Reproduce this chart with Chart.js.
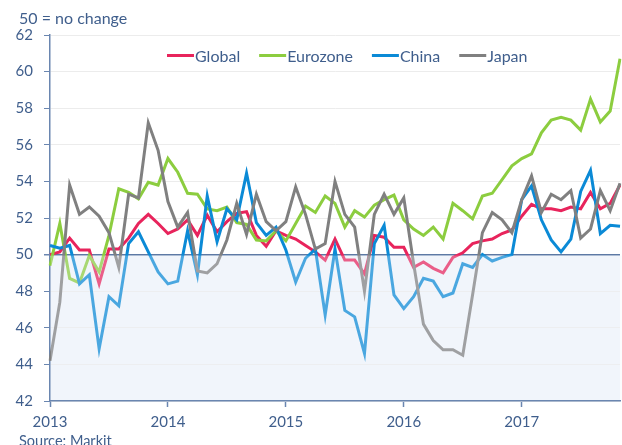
<!DOCTYPE html>
<html><head><meta charset="utf-8">
<script src="https://cdn.jsdelivr.net/npm/chart.js@4.4.1/dist/chart.umd.min.js"></script>
<style>html,body{margin:0;padding:0;background:#fff;overflow:hidden}#wrap{width:622px;height:445px;position:relative}</style>
</head><body><div id="wrap"><canvas id="c" width="622" height="445"></canvas></div>
<script>
const months = [
 '2013-01','2013-02','2013-03','2013-04','2013-05','2013-06','2013-07','2013-08','2013-09','2013-10','2013-11','2013-12',
 '2014-01','2014-02','2014-03','2014-04','2014-05','2014-06','2014-07','2014-08','2014-09','2014-10','2014-11','2014-12',
 '2015-01','2015-02','2015-03','2015-04','2015-05','2015-06','2015-07','2015-08','2015-09','2015-10','2015-11','2015-12',
 '2016-01','2016-02','2016-03','2016-04','2016-05','2016-06','2016-07','2016-08','2016-09','2016-10','2016-11','2016-12',
 '2017-01','2017-02','2017-03','2017-04','2017-05','2017-06','2017-07','2017-08','2017-09','2017-10','2017-11'];
const seriesNames = ['Global','Eurozone','China','Japan'];
const globalPMI = [50.0,50.15,50.9,50.25,50.25,48.4,50.3,50.3,50.9,51.7,52.2,51.7,
 51.15,51.4,51.9,51.05,52.15,51.25,51.8,52.25,52.35,51.05,50.45,51.3,
 51.05,50.85,50.5,50.15,49.7,50.85,49.7,49.7,48.95,51.05,50.95,50.4,
 50.4,49.3,49.6,49.25,49.0,49.85,50.1,50.6,50.75,50.85,51.15,51.35,
 52.1,52.75,52.5,52.5,52.4,52.6,52.5,53.4,52.5,52.8,53.8];
const eurozonePMI = [49.4,51.7,48.7,48.45,49.95,49.05,51.05,53.6,53.4,53.05,53.95,53.8,
 55.25,54.5,53.35,53.3,52.5,52.4,52.6,51.75,51.65,50.8,50.75,51.3,
 50.75,51.7,52.65,52.3,53.2,52.8,51.5,52.4,52.05,52.7,53.0,53.25,
 51.9,51.4,51.05,51.5,50.85,52.8,52.4,51.95,53.2,53.35,54.1,54.85,
 55.25,55.5,56.65,57.35,57.5,57.35,56.8,58.5,57.25,57.85,60.7];
const chinaPMI = [50.5,50.35,50.5,48.4,48.9,44.85,47.7,47.2,50.6,51.25,50.15,49.05,
 48.4,48.55,51.3,48.9,53.2,50.7,52.5,51.9,54.45,51.75,51.05,51.5,
 50.25,48.5,49.8,50.3,46.7,50.3,46.95,46.6,44.6,50.6,51.6,47.8,
 47.05,47.7,48.7,48.55,47.7,47.9,49.5,49.3,50.0,49.65,49.85,50.0,
 53.0,53.75,51.9,50.8,50.15,50.85,53.45,54.6,51.15,51.6,51.55];
const japanPMI = [44.2,47.4,53.8,52.2,52.6,52.1,51.2,49.3,53.3,53.1,57.2,55.7,
 52.9,51.5,52.3,49.1,49.0,49.5,50.8,52.8,51.1,53.3,51.8,51.3,
 51.8,53.7,52.2,50.3,50.6,54.0,52.2,51.5,48.0,52.2,53.3,52.2,
 53.1,49.5,46.2,45.3,44.8,44.8,44.5,47.8,51.2,52.3,51.9,51.2,
 53.0,54.3,52.3,53.3,53.0,53.5,50.9,51.4,53.5,52.4,53.9];
const yMin = 42, yMax = 62, yStep = 2, noChange = 50;
const titleText = '50 = no change';
const sourceText = 'Source: Markit';

const FONT = 'Lato, "Open Sans", sans-serif';
const TXT = '#3f5e8c';
const AXIS = '#6a86b0';
const colors = ['#e8245c','#8ccd3f','#0b8ad6','#808080'];
const values = [globalPMI, eurozonePMI, chinaPMI, japanPMI];

const decor = {
  id: 'decor',
  beforeDraw(chart) {
    const {ctx, chartArea: a, scales: {y}} = chart;
    const y50 = y.getPixelForValue(noChange);
    ctx.save();
    ctx.fillStyle = '#f1f5fb';
    ctx.fillRect(a.left, y50, a.right - a.left, a.bottom - y50);
    ctx.restore();
  },
  afterDatasetsDraw(chart) {
    const {ctx, chartArea: a, scales: {y}} = chart;
    const y50 = y.getPixelForValue(noChange);
    ctx.save();
    ctx.fillStyle = 'rgba(241,245,251,0.28)';
    ctx.fillRect(a.left + 1, y50 + 1, a.right - a.left + 3, a.bottom - y50 - 2);
    ctx.restore();
  },
  afterDraw(chart) {
    const {ctx} = chart;
    ctx.save();
    ctx.fillStyle = TXT;
    ctx.textBaseline = 'alphabetic';
    ctx.font = '16px ' + FONT;
    ctx.fillText(titleText, 19, 24);
    ctx.font = '14.5px ' + FONT;
    ctx.fillText(sourceText, 19, 446);
    // legend
    ctx.font = '16px ' + FONT;
    let x = 167;
    chart.data.datasets.forEach(ds => {
      ctx.strokeStyle = ds.borderColor;
      ctx.lineWidth = 3;
      ctx.beginPath();
      ctx.moveTo(x, 55.5);
      ctx.lineTo(x + 27, 55.5);
      ctx.stroke();
      ctx.fillStyle = TXT;
      ctx.fillText(ds.label, x + 28, 62);
      x += 28 + ctx.measureText(ds.label).width + 19;
    });
    ctx.restore();
  }
};

new Chart(document.getElementById('c'), {
  type: 'line',
  data: {
    labels: months,
    datasets: seriesNames.map((n, i) => ({
      label: n, data: values[i], borderColor: colors[i], backgroundColor: colors[i],
      borderWidth: 3, pointRadius: 0, tension: 0, fill: false, order: 3 - i
    }))
  },
  options: {
    responsive: false, animation: false, devicePixelRatio: 1,
    layout: {padding: {top: 35, right: 2, left: 0, bottom: 0}},
    plugins: {legend: {display: false}, tooltip: {enabled: false}, title: {display: false}},
    scales: {
      x: {
        type: 'category', offset: false,
        grid: {drawOnChartArea: false, drawTicks: true, tickLength: 6, tickColor: AXIS, tickWidth: 1.5},
        border: {color: AXIS, width: 1.5},
        ticks: {autoSkip: false, maxRotation: 0, minRotation: 0, color: TXT, font: {family: FONT, size: 15}, padding: 6,
          callback: function(v, i) { const m = months[i]; return m.endsWith('-01') ? m.slice(0, 4) : null; }},
        afterFit(s) { s.height = 44; }
      },
      y: {
        min: yMin, max: yMax,
        grid: {color: c => c.tick && c.tick.value === noChange ? '#5d79a4' : '#ececec',
               lineWidth: c => c.tick && c.tick.value === noChange ? 1.5 : 1,
               tickColor: AXIS, tickLength: 6, drawTicks: true},
        border: {color: AXIS, width: 1.5},
        ticks: {stepSize: yStep, color: TXT, font: {family: FONT, size: 15}, padding: 11},
        afterFit(s) { s.width = 50; }
      }
    }
  },
  plugins: [decor]
});
</script></body></html>
